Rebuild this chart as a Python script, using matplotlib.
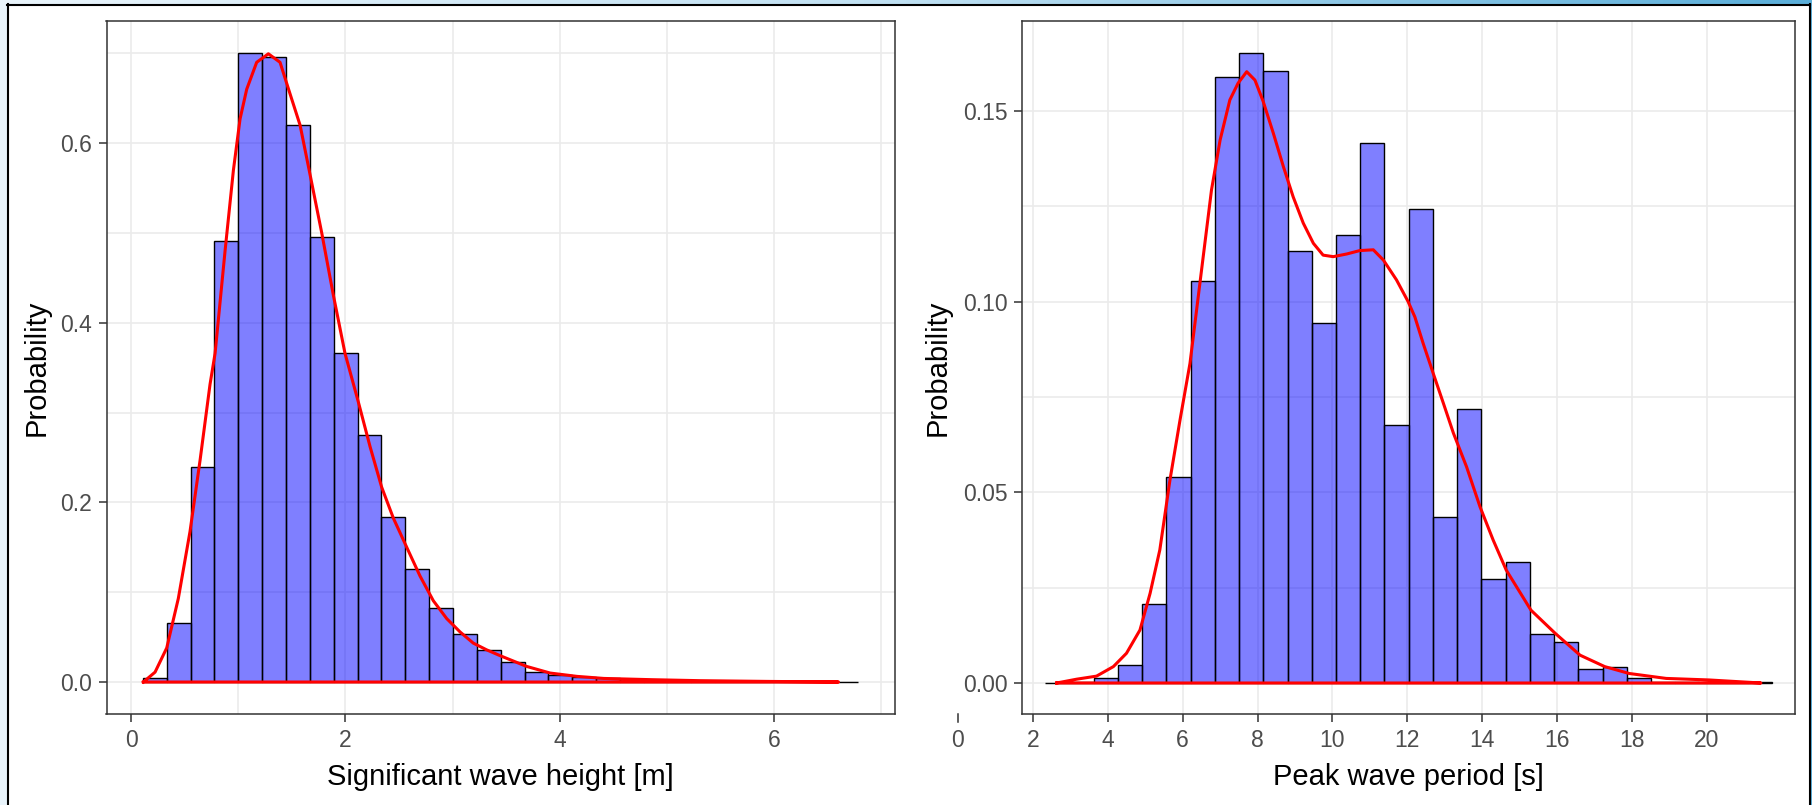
import numpy as np
import matplotlib.pyplot as plt
from matplotlib import transforms
from matplotlib.patches import Rectangle
from matplotlib.lines import Line2D

plt.rcParams['font.family'] = ['Liberation Sans', 'DejaVu Sans']

# Significant wave height: 30-bin density histogram
hs_start = 0.111
hs_binw = 0.2225
hs_density = [0.004, 0.0656, 0.2396, 0.4907, 0.7005, 0.696, 0.620, 0.4957,
              0.3664, 0.2754, 0.1834, 0.1263, 0.0824, 0.0535, 0.036, 0.0219,
              0.0111, 0.0074, 0.0052, 0.004, 0.003, 0.002, 0.0015, 0.001,
              0.0005, 0.0003, 0.0002, 0.0, 0.0, 0.0002]
# kernel density estimate of Hs
hs_kde_x = [0.115, 0.224, 0.333, 0.441, 0.55, 0.644, 0.737, 0.784, 0.877, 0.955,
            1.017, 1.079, 1.172, 1.281, 1.39, 1.483, 1.577, 1.67, 1.779, 1.887,
            1.996, 2.12, 2.23, 2.338, 2.447, 2.572, 2.696, 2.82, 2.945, 3.07,
            3.193, 3.318, 3.44, 3.69, 3.91, 4.16, 4.41, 4.86, 5.31, 5.93, 6.60]
hs_kde_y = [0.0, 0.011, 0.038, 0.093, 0.1675, 0.247, 0.3316, 0.366, 0.48, 0.57,
            0.627, 0.66, 0.69, 0.6995, 0.69, 0.655, 0.62, 0.565, 0.50, 0.431,
            0.366, 0.312, 0.262, 0.217, 0.1825, 0.15, 0.118, 0.0905, 0.0706, 0.0557,
            0.0433, 0.0358, 0.0295, 0.0174, 0.010, 0.0063, 0.004, 0.0026, 0.0015, 0.0007, 0.0]

# Peak wave period: 30-bin density histogram
tp_start = 2.33
tp_binw = 0.647
tp_density = [0.0, 0.0003, 0.0012, 0.0047, 0.0206, 0.0541, 0.1055, 0.159,
              0.1653, 0.1606, 0.1134, 0.0945, 0.1176, 0.1415, 0.0676, 0.1243,
              0.0436, 0.0719, 0.0273, 0.0316, 0.0128, 0.0107, 0.0038, 0.0043,
              0.0012, 0.0003, 0.0002, 0.0, 0.0, 0.0002]
tp_kde_x = [2.635, 3.17, 3.70, 4.15, 4.50, 4.86, 5.13, 5.39, 5.66, 5.93,
            6.195, 6.46, 6.77, 7.0, 7.26, 7.48, 7.71, 7.93, 8.15, 8.42,
            8.69, 8.95, 9.22, 9.49, 9.75, 10.02, 10.38, 10.73, 11.09, 11.36,
            11.71, 12.02, 12.20, 12.42, 12.69, 12.96, 13.23, 13.58, 13.94, 14.29,
            14.64, 15.30, 15.95, 16.61, 17.27, 17.92, 18.91, 20.05, 21.44]
tp_kde_y = [0.0, 0.001, 0.0018, 0.0043, 0.0078, 0.0139, 0.0235, 0.0349, 0.0532, 0.069,
            0.0838, 0.1048, 0.1293, 0.1424, 0.1529, 0.1573, 0.1603, 0.1581, 0.1525, 0.1442,
            0.1354, 0.1275, 0.1206, 0.1153, 0.1122, 0.1118, 0.1125, 0.1134, 0.1136, 0.1109,
            0.1057, 0.1, 0.096, 0.0891, 0.0812, 0.0734, 0.0655, 0.0567, 0.0462, 0.0375,
            0.0296, 0.0191, 0.013, 0.0073, 0.0043, 0.0025, 0.0012, 0.0008, 0.0]

hs_xticks = [0, 2, 4, 6]
hs_yticks = [0.0, 0.2, 0.4, 0.6]
tp_xticks = list(range(2, 21, 2))
tp_yticks = [0.0, 0.05, 0.10, 0.15]

W, H = 1812, 805
fig = plt.figure(figsize=(W / 100, H / 100), dpi=100)

GRID = '#EBEBEB'
FRAME = '#333333'
TICKLEN = 5.5
PAD = 5.0


def hist_panel(ax, start, binw, dens, kx, ky):
    edges = start + binw * np.arange(len(dens))
    ax.bar(edges, dens, width=binw, align='edge', color=(0, 0, 1, 0.5),
           edgecolor='black', linewidth=1.0, zorder=2)
    # closed density outline (curve plus baseline)
    px = list(kx) + [kx[0]]
    py = list(ky) + [0.0]
    ax.plot(px, py, color='red', lw=2.2, zorder=3, solid_joinstyle='round')
    for s in ax.spines.values():
        s.set_color(FRAME)
        s.set_linewidth(1.1)
    ax.set_axisbelow(True)
    ax.tick_params(which='major', length=TICKLEN, width=1.1, color=FRAME,
                   labelsize=16.5, labelcolor='#4D4D4D', pad=PAD)
    ax.tick_params(which='minor', length=0)
    ax.set_ylabel('Probability', fontsize=21, color='black')


ax1 = fig.add_axes([106.5 / W, 1 - 714 / H, (895 - 106.5) / W, (714 - 21) / H])
hist_panel(ax1, hs_start, hs_binw, hs_density, hs_kde_x, hs_kde_y)
ax1.set_xlim(-0.229, 7.127)
ax1.set_ylim(-0.0356, 0.736)
ax1.set_xticks(hs_xticks)
ax1.set_xticks([1, 3, 5, 7], minor=True)
ax1.set_yticks(hs_yticks)
ax1.set_yticklabels([f'{v:.1f}' for v in hs_yticks])
ax1.set_yticks([0.1, 0.3, 0.5, 0.7], minor=True)
ax1.grid(which='both', color=GRID, lw=1.2)
ax1.set_xlabel('Significant wave height [m]', fontsize=21)

ax2 = fig.add_axes([1022 / W, 1 - 714 / H, (1795 - 1022) / W, (714 - 21) / H])
hist_panel(ax2, tp_start, tp_binw, tp_density, tp_kde_x, tp_kde_y)
ax2.set_xlim(1.71, 22.35)
ax2.set_ylim(-0.00813, 0.1736)
ax2.set_xticks(tp_xticks)
ax2.set_yticks(tp_yticks)
ax2.set_yticklabels([f'{v:.2f}' for v in tp_yticks])
ax2.set_yticks([0.025, 0.075, 0.125], minor=True)
ax2.grid(which='major', color=GRID, lw=1.2)
ax2.grid(which='minor', axis='y', color=GRID, lw=1.2)
ax2.set_xlabel('Peak wave period [s]', fontsize=21)

# stray "0" break that sits left of the panel
tr = ax2.get_xaxis_transform()
lab_tr = transforms.offset_copy(tr, fig=fig, x=0, y=-(TICKLEN + PAD), units='points')
ax2.text(0, 0, '0', transform=lab_tr, ha='center', va='top', fontsize=16.5,
         color='#4D4D4D', clip_on=False)
ax2.plot([0, 0], [0, -TICKLEN / 72 * 100 / 693], transform=tr, color=FRAME,
         lw=1.1, clip_on=False)

for ax, ylx in ((ax1, (36.7 - 106.5) / (895 - 106.5)), (ax2, (938 - 1022) / (1795 - 1022))):
    ax.yaxis.label.set_va('center')
    ax.yaxis.set_label_coords(ylx, 0.5)
    ax.xaxis.label.set_va('center')
    ax.xaxis.set_label_coords(0.5, (714 - 777) / 693)

# window frame around the figure
grad = fig.add_axes([0, 1 - 4 / H, 1, 4 / H])
g = np.linspace(0, 1, 256)[None, :]
cmap = plt.matplotlib.colors.LinearSegmentedColormap.from_list(
    'bar', ['#E9F4FB', '#BFE0F2', '#5AAED9'])
grad.imshow(g, aspect='auto', cmap=cmap, extent=[0, 1, 0, 1])
grad.set_axis_off()
fig.patches.append(Rectangle((0, 0), 6.5 / W, 1 - 4 / H, transform=fig.transFigure,
                             facecolor='#E9F4FB', edgecolor='none'))
fig.lines.append(Line2D([7.5 / W, 7.5 / W], [0, 1 - 4 / H], transform=fig.transFigure,
                        color='black', lw=1.5))
fig.lines.append(Line2D([7 / W, 1810 / W], [1 - 5 / H, 1 - 5 / H], transform=fig.transFigure,
                        color='black', lw=1.5))
fig.lines.append(Line2D([1809.5 / W, 1809.5 / W], [0, 1 - 4 / H], transform=fig.transFigure,
                        color='black', lw=1.5))
fig.patches.append(Rectangle((1811 / W, 0), 1 / W, 1, transform=fig.transFigure,
                             facecolor='#5AAED9', edgecolor='none'))

fig.savefig('out.png', dpi=100)
